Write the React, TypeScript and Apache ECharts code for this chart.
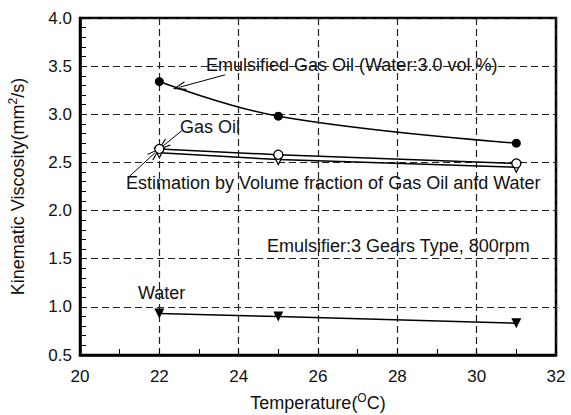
import React, { useEffect, useRef } from "react";
import * as echarts from "echarts";

const temps = [22, 25, 31];
const emulsified = [3.34, 2.98, 2.7];
const gasOil = [2.64, 2.58, 2.49];
const estimation = [2.6, 2.53, 2.45];
const water = [0.93, 0.9, 0.83];

const xTicks = { min: 20, max: 32, interval: 2 };
const yTicks = { min: 0.5, max: 4.0, interval: 0.5 };

// annotation arrows in data coordinates: [from, to]
const arrows: [number[], number[]][] = [
  [[23.66, 3.41], [22.5, 3.28]],
  [[22.57, 2.83], [22.09, 2.67]],
  [[21.26, 2.36], [21.89, 2.6]],
];

const FONT = "'Liberation Sans', Arial, sans-serif";

export default function App() {
  const ref = useRef<HTMLDivElement>(null);
  useEffect(() => {
    if (!ref.current) return;
    const chart = echarts.init(ref.current, undefined, { renderer: "svg" });
    const pair = (ys: number[]) => temps.map((t, i) => [t, ys[i]]);
    const arrowHead = "path://M5,0 L10,14 L8.6,14 L5,3 L1.4,14 L0,14 Z";
    const annText = (text: string, x: number, y: number) => ({
      type: "text",
      x,
      y,
      style: {
        text,
        fill: "#111",
        font: `18px ${FONT}`,
        textVerticalAlign: "middle",
        verticalAlign: "middle",
      },
    });
    chart.setOption({
      animation: false,
      backgroundColor: "#fff",
      textStyle: { fontFamily: FONT },
      grid: {
        left: 80,
        right: 15,
        top: 18,
        bottom: 60,
        containLabel: false,
        outerBoundsMode: "none",
        show: true,
        borderColor: "#000",
        borderWidth: 2.5,
        backgroundColor: "transparent",
      },
      xAxis: {
        type: "value",
        min: xTicks.min,
        max: xTicks.max,
        interval: xTicks.interval,
        name: "Temperature({sup|O}C)",
        nameLocation: "middle",
        nameGap: 37,
        nameTextStyle: {
          fontSize: 18,
          color: "#111",
          fontFamily: FONT,
          rich: { sup: { fontSize: 12, padding: [0, 0, 9, 0], fontFamily: FONT, color: "#111" } },
        },
        axisLine: { show: true, lineStyle: { color: "#000", width: 2.5 } },
        axisTick: { show: true, inside: true, length: 6, lineStyle: { color: "#000", width: 1 } },
        minorTick: { show: true, splitNumber: 2, length: 6, lineStyle: { color: "#000", width: 1 } },
        axisLabel: { fontSize: 17, color: "#111", margin: 13, fontFamily: FONT },
        splitLine: { show: true, lineStyle: { color: "#222", width: 1.2, type: [7, 4] } },
      },
      yAxis: {
        type: "value",
        min: yTicks.min,
        max: yTicks.max,
        interval: yTicks.interval,
        name: "Kinematic Viscosity(mm{sup|2}/s)",
        nameLocation: "middle",
        nameGap: 52,
        nameTextStyle: {
          fontSize: 18,
          color: "#111",
          fontFamily: FONT,
          rich: { sup: { fontSize: 12, padding: [0, 0, 9, 0], fontFamily: FONT, color: "#111" } },
        },
        axisLine: { show: true, lineStyle: { color: "#000", width: 2.5 } },
        axisTick: { show: true, inside: true, length: 6, lineStyle: { color: "#000", width: 1 } },
        minorTick: { show: true, splitNumber: 5, length: 6, lineStyle: { color: "#000", width: 1 } },
        axisLabel: {
          fontSize: 17,
          color: "#111",
          margin: 8,
          fontFamily: FONT,
          formatter: (v: number) => v.toFixed(1),
        },
        splitLine: { show: true, lineStyle: { color: "#222", width: 1.2, type: [7, 4] } },
      },
      series: [
        {
          name: "Emulsified Gas Oil",
          type: "line",
          data: pair(emulsified),
          smooth: 0.4,
          symbol: "circle",
          symbolSize: 9,
          itemStyle: { color: "#000" },
          lineStyle: { color: "#000", width: 1.5 },
          z: 5,
        },
        {
          name: "Estimation",
          type: "line",
          data: pair(estimation),
          symbol: "triangle",
          symbolRotate: 180,
          symbolSize: 10,
          itemStyle: { color: "#fff", borderColor: "#000", borderWidth: 1.2 },
          lineStyle: { color: "#000", width: 1.5 },
          z: 4,
        },
        {
          name: "Gas Oil",
          type: "line",
          data: pair(gasOil),
          symbol: "circle",
          symbolSize: 9,
          itemStyle: { color: "#fff", borderColor: "#000", borderWidth: 1.2 },
          lineStyle: { color: "#000", width: 1.5 },
          z: 5,
        },
        {
          name: "Water",
          type: "line",
          data: pair(water),
          symbol: "triangle",
          symbolRotate: 180,
          symbolSize: 10,
          itemStyle: { color: "#000" },
          lineStyle: { color: "#000", width: 1.5 },
          z: 5,
        },
        {
          name: "arrows",
          type: "line",
          data: [],
          silent: true,
          markLine: {
            silent: true,
            symbol: ["none", arrowHead],
            symbolSize: [9, 13],
            label: { show: false },
            lineStyle: { color: "#000", width: 1, type: "solid" },
            emphasis: { disabled: true },
            data: arrows.map(([a, b]) => [{ coord: a }, { coord: b }]),
          },
        },
      ],
      graphic: [
        annText("Emulsified Gas Oil (Water:3.0 vol.%)", 206, 65),
        annText("Gas Oil", 180, 127),
        annText("Estimation by Volume fraction of Gas Oil anfd Water", 126, 183),
        annText("Emulsifier:3 Gears Type, 800rpm", 267, 246),
        annText("Water", 138, 293),
      ],
    });
    return () => chart.dispose();
  }, []);
  return (
    <div
      ref={ref}
      style={{ position: "fixed", left: 0, top: 0, width: 571, height: 415, background: "#fff" }}
    />
  );
}
